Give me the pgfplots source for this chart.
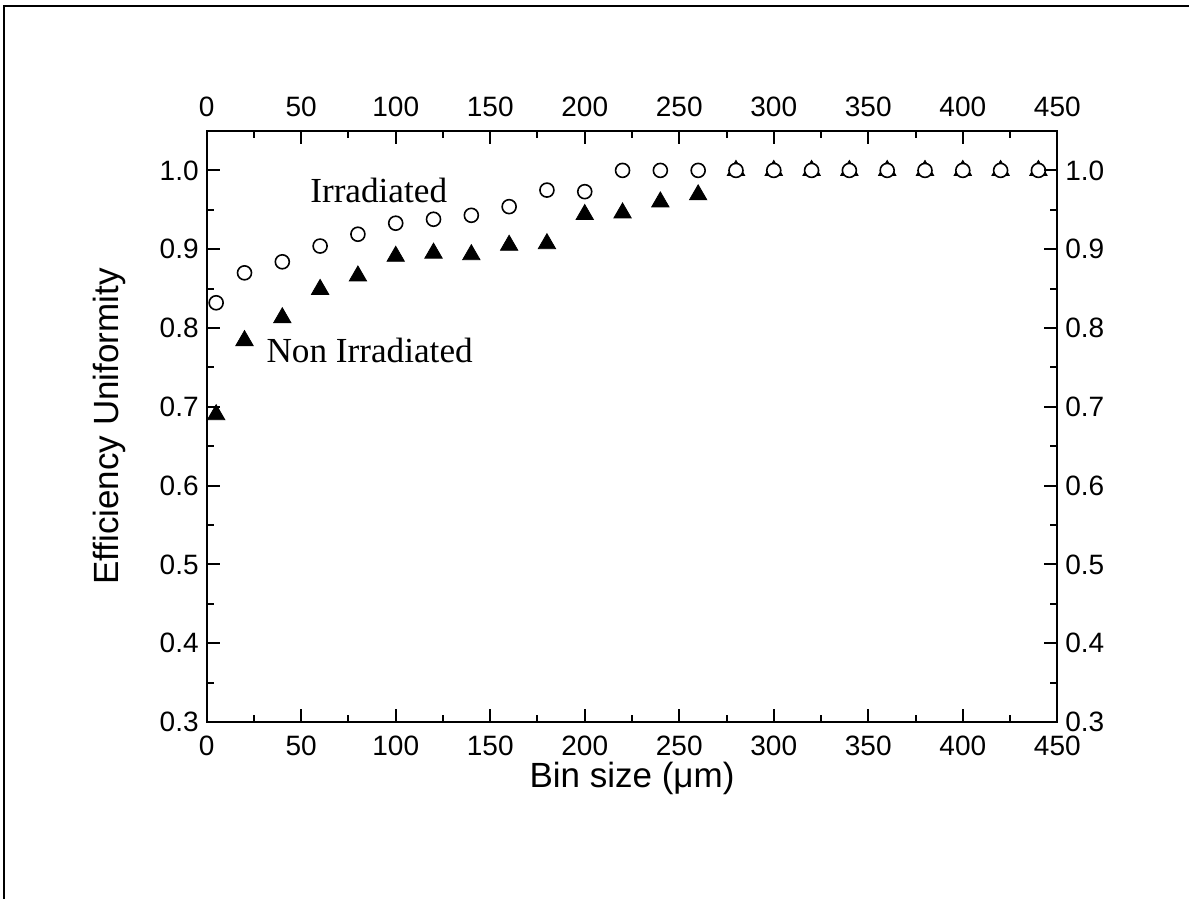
\documentclass[border=0pt]{standalone}
\usepackage{pgfplots}
\pgfplotsset{compat=1.18}
\usepackage{fontspec}
\setmainfont{Liberation Sans}
\newfontfamily\timesfont{Liberation Serif}
\begin{document}
\begin{tikzpicture}
\useasboundingbox (-103.35bp,-88.5bp) rectangle (491.15bp,361bp);
\draw[line width=1.1bp] (-101.35bp,-90bp) -- (-101.35bp,358bp) -- (493bp,358bp);
\pgfplotsset{common/.style={
  scale only axis, width=425.3bp, height=295.5bp,
  xmin=0, xmax=450, ymin=0.3, ymax=1.05,
  xtick={0,50,100,150,200,250,300,350,400,450},
  ytick={0.3,0.4,0.5,0.6,0.7,0.8,0.9,1.0},
  minor x tick num=1, minor y tick num=1,
  major tick length=6.5bp, minor tick length=3.5bp,
  tick style={line width=1bp,black},
  axis line style={line width=1bp},
  ticklabel style={font=\fontsize{14bp}{16bp}\selectfont},
  /pgf/number format/assume math mode=true,
  yticklabel style={/pgf/number format/fixed,/pgf/number format/fixed zerofill,/pgf/number format/precision=1},
  xticklabel shift=3.5bp,
  yticklabel shift=0.5bp,
}}
\begin{axis}[common,
  xlabel={Bin size (μm)},
  ylabel={Efficiency Uniformity},
  every axis x label/.style={at={(axis description cs:0.5,0)},anchor=center,yshift=-28bp,font=\fontsize{17.5bp}{20bp}\selectfont},
  every axis y label/.style={at={(axis description cs:0,0.5)},anchor=center,xshift=-48.4bp,rotate=90,font=\fontsize{17.5bp}{20bp}\selectfont},
]
\addplot[only marks, mark=triangle*, mark size=5bp, mark options={fill=black,draw=black,line width=0.4bp}] coordinates {
(5,0.690) (20,0.784) (40,0.813) (60,0.849) (80,0.866) (100,0.891) (120,0.895) (140,0.893)
(160,0.905) (180,0.907) (200,0.944) (220,0.946) (240,0.960) (260,0.969)
(280,1.0) (300,1.0) (320,1.0) (340,1.0) (360,1.0) (380,1.0) (400,1.0) (420,1.0) (440,1.0)
};
\addplot[only marks, mark=*, mark size=3.5bp, mark options={fill=white,draw=black,line width=0.8bp}] coordinates {
(5,0.832) (20,0.870) (40,0.884) (60,0.904) (80,0.919) (100,0.933) (120,0.938) (140,0.943)
(160,0.954) (180,0.975) (200,0.973) (220,1.0) (240,1.0) (260,1.0)
(280,1.0) (300,1.0) (320,1.0) (340,1.0) (360,1.0) (380,1.0) (400,1.0) (420,1.0) (440,1.0)
};
\node[font=\timesfont\fontsize{17.6bp}{20bp}\selectfont] at (axis cs:91,0.975) {Irradiated};
\node[font=\timesfont\fontsize{17.6bp}{20bp}\selectfont] at (axis cs:86.2,0.772) {Non Irradiated};
\end{axis}
\begin{axis}[common, xticklabel pos=upper, yticklabel pos=right]
\end{axis}
\end{tikzpicture}
\end{document}
